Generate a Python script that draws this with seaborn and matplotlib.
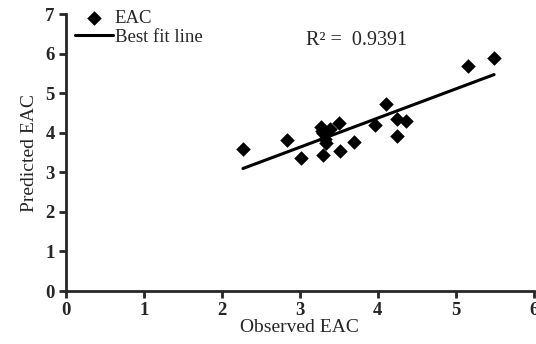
import matplotlib
matplotlib.use("Agg")
import matplotlib.pyplot as plt
import seaborn as sns
import numpy as np
import pandas as pd

# values
observed = [2.27, 2.84, 3.02, 3.27, 3.29, 3.39, 3.50, 3.52, 3.69, 3.96,
            4.10, 4.24, 4.36, 4.24, 5.15, 5.49, 3.30, 3.32, 3.34, 3.28]
predicted = [3.58, 3.82, 3.37, 4.15, 3.44, 4.09, 4.24, 3.54, 3.76, 4.20,
             4.73, 4.36, 4.30, 3.92, 5.69, 5.88, 3.99, 3.85, 3.75, 4.05]
r2_label = "R² =  0.9391"
x_ticks = [0, 1, 2, 3, 4, 5, 6]
y_ticks = [0, 1, 2, 3, 4, 5, 6, 7]

df = pd.DataFrame({"Observed EAC": observed, "Predicted EAC": predicted})

# least squares line over the observed range
slope, intercept = np.polyfit(df["Observed EAC"], df["Predicted EAC"], 1)
fit = pd.DataFrame({"x": [min(observed), max(observed)]})
fit["y"] = slope * fit["x"] + intercept

sns.set_style("ticks")
plt.rcParams["font.family"] = ["Liberation Serif", "DejaVu Serif"]

fig = plt.figure(figsize=(5.36, 3.44), dpi=100)
ax = fig.add_axes([0.123, 0.154, 0.873, 0.805])

sns.scatterplot(data=df, x="Observed EAC", y="Predicted EAC", marker="D",
                s=55, color="black", edgecolor="black", linewidth=0,
                label="EAC", ax=ax, zorder=3)
sns.lineplot(data=fit, x="x", y="y", color="black", linewidth=2.2,
             label="Best fit line", ax=ax)

ax.set_xlim(0, 6)
ax.set_ylim(0, 7)
ax.set_xticks(x_ticks)
ax.set_yticks(y_ticks)
ax.tick_params(direction="out", length=5, width=2, labelsize=13.5, pad=3)
for lab in ax.get_xticklabels() + ax.get_yticklabels():
    lab.set_fontweight("bold")
for side in ["left", "bottom"]:
    ax.spines[side].set_linewidth(2)
sns.despine(ax=ax)

ax.set_xlabel("Observed EAC", fontsize=14, labelpad=0)
ax.set_ylabel("Predicted EAC", fontsize=14, labelpad=5)

ax.text(3.08, 6.22, r2_label, fontsize=14.5)

ax.legend(loc="upper left", frameon=False, fontsize=13.5, handlelength=2.0,
          handletextpad=0.1, borderaxespad=0.1, labelspacing=0.1,
          bbox_to_anchor=(0.0, 1.05))

fig.savefig("out.png", dpi=100)
